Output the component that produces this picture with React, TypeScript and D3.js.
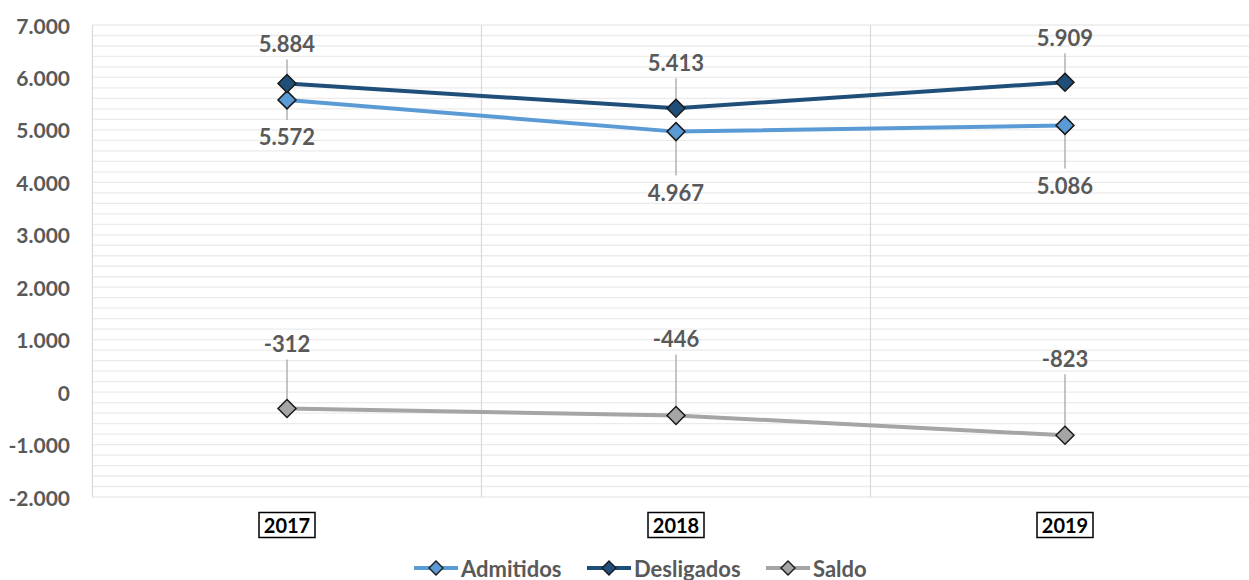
import React from "react";
import * as d3 from "d3";

const years = ["2017", "2018", "2019"];
const admitidos = [5572, 4967, 5086];
const desligados = [5884, 5413, 5909];
const saldo = [-312, -446, -823];
const yTicks = [-2000, -1000, 0, 1000, 2000, 3000, 4000, 5000, 6000, 7000];
// label offsets in pixels (styling)
const admOffsets = [37, 61, 60];
const desOffsets = [-40, -46, -45];
const salOffsets = [-65, -77, -77];

const W = 1249;
const H = 580;
const FONT = "Lato, 'Open Sans', sans-serif";
const TXT = "#595959";

const fmt = (v: number) => {
  const s = Math.abs(v).toString();
  const withDots = s.replace(/\B(?=(\d{3})+(?!\d))/g, ".");
  return (v < 0 ? "-" : "") + withDots;
};

export default function App() {
  const x = d3.scaleBand<string>().domain(years).range([92.5, 1259.5]);
  const y = d3.scaleLinear().domain([-2000, 7000]).range([497, 25]);
  const cx = (d: string) => (x(d) ?? 0) + x.bandwidth() / 2;
  const minor = d3.range(-2000, 7001, 200);
  const line = d3
    .line<number>()
    .x((_, i) => cx(years[i]))
    .y((v) => y(v))
    .curve(d3.curveLinear);

  const series = [
    { name: "Admitidos", values: admitidos, color: "#5B9BD5", offsets: admOffsets, markerFill: "#5B9BD5" },
    { name: "Desligados", values: desligados, color: "#1F4E79", offsets: desOffsets, markerFill: "#1F4E79" },
    { name: "Saldo", values: saldo, color: "#A5A5A5", offsets: salOffsets, markerFill: "#A5A5A5" },
  ];

  const diamond = (px: number, py: number, r: number) =>
    `M${px},${py - r}L${px + r},${py}L${px},${py + r}L${px - r},${py}Z`;

  const legendX = [414, 587, 766];

  return (
    <svg
      width={W}
      height={H}
      style={{ position: "absolute", left: 0, top: 0, background: "#fff" }}
      fontFamily={FONT}
    >
      {/* gridlines */}
      {minor.map((v) => (
        <line key={"g" + v} x1={92.5} x2={1259.5} y1={y(v)} y2={y(v)} stroke="#EBEBEB" strokeWidth={1.3} />
      ))}
      {[92.5, ...years.slice(1).map((d) => x(d) ?? 0)].map((gx, i) => (
        <line key={"v" + i} x1={gx} x2={gx} y1={y(7000)} y2={y(-2000)} stroke="#D9D9D9" strokeWidth={1.2} />
      ))}
      {/* y ticks */}
      {yTicks.map((v) => (
        <text
          key={"t" + v}
          x={70}
          y={y(v)}
          textAnchor="end"
          dominantBaseline="central"
          fontSize={21}
          fontWeight="bold"
          fill={TXT}
        >
          {fmt(v)}
        </text>
      ))}
      {/* leader lines */}
      {series.map((s) =>
        s.values.map((v, i) => {
          const px = cx(years[i]);
          const py = y(v);
          const ly = py + s.offsets[i];
          const end = s.offsets[i] < 0 ? ly + 16 : ly - 17;
          return (
            <line key={s.name + "l" + i} x1={px} x2={px} y1={py} y2={end} stroke="#A6A6A6" strokeWidth={1.3} />
          );
        })
      )}
      {/* lines */}
      {series.map((s) => (
        <path key={s.name} d={line(s.values) ?? ""} fill="none" stroke={s.color} strokeWidth={4} strokeLinecap="round" strokeLinejoin="round" />
      ))}
      {/* markers */}
      {series.map((s) =>
        s.values.map((v, i) => (
          <path
            key={s.name + "m" + i}
            d={diamond(cx(years[i]), y(v), 9)}
            fill={s.markerFill}
            stroke="#1a1a1a"
            strokeWidth={1.5}
          />
        ))
      )}
      {/* labels */}
      {series.map((s) =>
        s.values.map((v, i) => (
          <text
            key={s.name + "t" + i}
            x={cx(years[i])}
            y={y(v) + s.offsets[i]}
            textAnchor="middle"
            dominantBaseline="central"
            fontSize={22}
            fontWeight="bold"
            fill={TXT}
          >
            {fmt(v)}
          </text>
        ))
      )}
      {/* x labels */}
      {years.map((d) => (
        <g key={"x" + d} transform={`translate(${cx(d)},525)`}>
          <rect x={-28} y={-12.5} width={56} height={25} fill="#fff" stroke="#000" strokeWidth={1.5} />
          <text textAnchor="middle" dominantBaseline="central" fontSize={20} fontWeight="bold" fill="#000">
            {d}
          </text>
        </g>
      ))}
      {/* legend */}
      {series.map((s, i) => (
        <g key={"lg" + s.name} transform={`translate(${legendX[i]},568)`}>
          <line x1={0} x2={44} y1={0} y2={0} stroke={s.color} strokeWidth={4} />
          <path d={diamond(22, 0, 7)} fill={s.markerFill} stroke="#1a1a1a" strokeWidth={1.4} />
          <text x={47} y={0} dominantBaseline="central" fontSize={22} fontWeight="bold" fill={TXT}>
            {s.name}
          </text>
        </g>
      ))}
    </svg>
  );
}
